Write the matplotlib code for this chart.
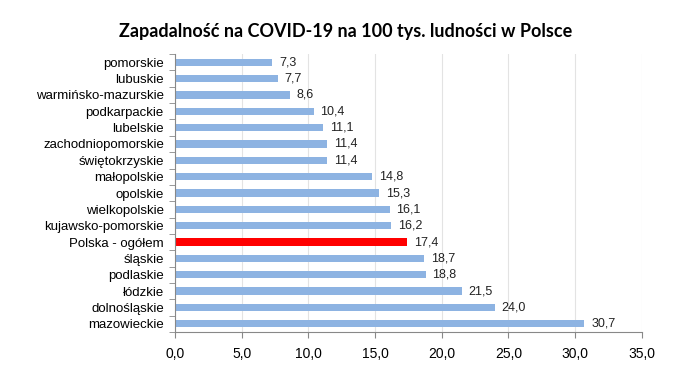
import matplotlib
matplotlib.use("Agg")
import matplotlib.pyplot as plt

regions = ["pomorskie", "lubuskie", "warmińsko-mazurskie", "podkarpackie", "lubelskie",
           "zachodniopomorskie", "świętokrzyskie", "małopolskie", "opolskie", "wielkopolskie",
           "kujawsko-pomorskie", "Polska - ogółem", "śląskie", "podlaskie", "łódzkie",
           "dolnośląskie", "mazowieckie"]
values = [7.3, 7.7, 8.6, 10.4, 11.1, 11.4, 11.4, 14.8, 15.3, 16.1, 16.2, 17.4, 18.7, 18.8, 21.5, 24.0, 30.7]
xticks = [0, 5, 10, 15, 20, 25, 30, 35]

plt.rcParams["font.family"] = ["Liberation Sans", "DejaVu Sans"]

fig = plt.figure(figsize=(6.77, 3.68), dpi=100)
ax = fig.add_axes([0.2585, 0.098, 0.6895, 0.755])

ypos = list(range(len(regions)))
colors = ["#ff0000" if r.startswith("Polska") else "#8db3e2" for r in regions]
ax.barh(ypos, values, height=0.45, color=colors, zorder=2)
for y, v in zip(ypos, values):
    ax.text(v + 0.5, y, f"{v:.1f}".replace(".", ","), va="center", ha="left", fontsize=9, color="#222222")

ax.set_xlim(0, 35)
ax.set_ylim(len(regions) - 0.5, -0.5)
ax.set_xticks(xticks)
ax.set_xticklabels([f"{t:.1f}".replace(".", ",") for t in xticks], fontsize=10)
ax.set_yticks(ypos)
ax.set_yticklabels(regions, fontsize=9.5)
ax.set_yticks([y + 0.5 for y in range(-1, len(regions))], minor=True)
ax.tick_params(axis="y", which="major", length=0, pad=8)
ax.tick_params(axis="y", which="minor", length=4, color="#888888")
ax.tick_params(axis="x", length=4, color="#888888", pad=7)
ax.grid(axis="x", color="#e3e3e3", lw=0.8, zorder=0)
for s in ["top", "right"]:
    ax.spines[s].set_visible(False)
for s in ["left", "bottom"]:
    ax.spines[s].set_color("#888888")

fig.text(0.51, 0.915, "Zapadalność na COVID-19 na 100 tys. ludności w Polsce", ha="center", va="center",
         fontsize=13, fontweight="bold", family=["Lato", "DejaVu Sans"])

fig.savefig("out.png", dpi=100)
